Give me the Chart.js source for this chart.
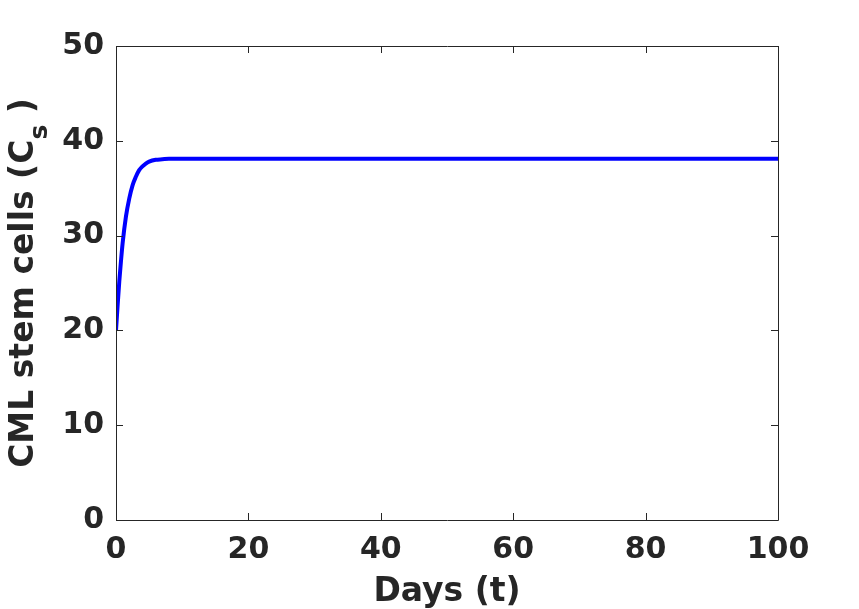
<!DOCTYPE html>
<html><head><meta charset="utf-8">
<script src="https://cdn.jsdelivr.net/npm/chart.js@4/dist/chart.umd.min.js"></script>
<style>html,body{margin:0;padding:0;background:#fff}#wrap{width:859px;height:609px;position:relative}</style>
</head><body><div id="wrap"><canvas id="c" width="859" height="609"></canvas></div>
<script>
// ---- data ----
const days = [0, 0.25, 0.5, 0.75, 1, 1.5, 2, 2.5, 3, 3.5, 4, 4.5, 5, 6, 7, 8, 10, 20, 30, 40, 50, 60, 70, 80, 90, 100];
const stemCells = [20, 22.7, 25.2, 27.3, 29.2, 32.0, 33.9, 35.3, 36.2, 36.9, 37.3, 37.6, 37.8, 38.0, 38.05, 38.1, 38.1, 38.1, 38.1, 38.1, 38.1, 38.1, 38.1, 38.1, 38.1, 38.1];
const xTickValues = [0, 20, 40, 60, 80, 100];
const yTickValues = [0, 10, 20, 30, 40, 50];
const xTitle = 'Days (t)';
const yTitleMain = 'CML stem cells (C';
const yTitleSub = 's';
const yTitleEnd = ' )';

const INK = '#262626';
const FAMILY = "'DejaVu Sans', sans-serif";

const boxAndTicks = {
  id: 'boxAndTicks',
  afterDraw(chart) {
    const {ctx, chartArea: a, scales: {x, y}} = chart;
    ctx.save();
    ctx.strokeStyle = INK;
    ctx.lineWidth = 1;
    ctx.beginPath();
    ctx.rect(Math.round(a.left) + 0.5, Math.round(a.top) + 0.5, Math.round(a.right - a.left), Math.round(a.bottom - a.top));
    const tl = 7;
    xTickValues.forEach(v => {
      const px = Math.round(x.getPixelForValue(v)) + 0.5;
      ctx.moveTo(px, a.bottom); ctx.lineTo(px, a.bottom - tl);
      ctx.moveTo(px, a.top); ctx.lineTo(px, a.top + tl);
    });
    yTickValues.forEach(v => {
      const py = Math.round(y.getPixelForValue(v)) + 0.5;
      ctx.moveTo(a.left, py); ctx.lineTo(a.left + tl, py);
      ctx.moveTo(a.right, py); ctx.lineTo(a.right - tl, py);
    });
    ctx.stroke();
    // y title with subscript
    const fs = 33;
    const mainFont = `bold ${fs}px ${FAMILY}`;
    const subFont = `bold 25px ${FAMILY}`;
    ctx.font = mainFont;
    const w1 = ctx.measureText(yTitleMain).width;
    const w3 = ctx.measureText(yTitleEnd).width;
    ctx.font = subFont;
    const w2 = ctx.measureText(yTitleSub).width;
    const total = w1 + w2 + w3;
    const cy = (a.top + a.bottom) / 2;
    ctx.translate(33, cy);
    ctx.rotate(-Math.PI / 2);
    ctx.fillStyle = INK;
    ctx.textBaseline = 'alphabetic';
    ctx.textAlign = 'left';
    let sx = -total / 2;
    ctx.font = mainFont;
    ctx.fillText(yTitleMain, sx, 0);
    sx += w1;
    ctx.font = subFont;
    ctx.fillText(yTitleSub, sx, 14);
    sx += w2;
    ctx.font = mainFont;
    ctx.fillText(yTitleEnd, sx, 0);
    ctx.restore();
  }
};

new Chart(document.getElementById('c'), {
  type: 'line',
  data: {
    datasets: [{
      data: days.map((d, i) => ({x: d, y: stemCells[i]})),
      borderColor: '#0000ff',
      borderWidth: 4,
      pointRadius: 0,
      cubicInterpolationMode: 'monotone',
      fill: false
    }]
  },
  options: {
    responsive: false,
    animation: false,
    devicePixelRatio: 1,
    layout: {padding: {top: 46, right: 81, left: 0, bottom: 0}},
    plugins: {legend: {display: false}, tooltip: {enabled: false}},
    scales: {
      x: {
        type: 'linear', min: 0, max: 100,
        afterFit: s => { s.height = 89; },
        afterBuildTicks: s => { s.ticks = xTickValues.map(v => ({value: v})); },
        grid: {display: false, drawTicks: false},
        border: {display: false},
        ticks: {color: INK, font: {family: FAMILY, size: 30, weight: 'bold'}, padding: 12, maxRotation: 0, autoSkip: false},
        title: {display: true, text: xTitle, color: INK, font: {family: FAMILY, size: 33, weight: 'bold', lineHeight: 1.0}, padding: {top: 0, bottom: 0}}
      },
      y: {
        type: 'linear', min: 0, max: 50,
        afterFit: s => { s.width = 116; },
        afterBuildTicks: s => { s.ticks = yTickValues.map(v => ({value: v})); },
        grid: {display: false, drawTicks: false},
        border: {display: false},
        ticks: {color: INK, font: {family: FAMILY, size: 30, weight: 'bold'}, padding: 12, autoSkip: false}
      }
    }
  },
  plugins: [boxAndTicks]
});
</script>
</body></html>
